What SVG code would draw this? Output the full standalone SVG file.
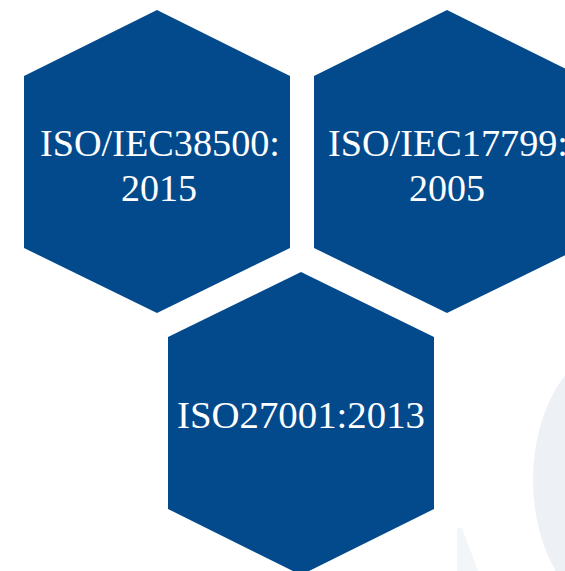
<svg xmlns="http://www.w3.org/2000/svg" width="565" height="571" viewBox="0 0 565 571">
<style>
.hex{fill:#034a8d}
.lbl{fill:#ffffff;font-family:"Liberation Serif","DejaVu Serif",serif;font-size:38px;text-anchor:middle}
.bg{fill:#edf1f6}
</style>
<rect width="565" height="571" fill="#ffffff"/>
<g id="background">
<ellipse class="bg" cx="620" cy="480" rx="87" ry="135"/>
<polygon points="457,528 462,528 478,571 457,571" fill="#f3f6f9"/>
</g>
<g id="node-iec38500">
<polygon class="hex" points="157,10 290,76 290,248 157,313 24,248 24,76"/>
<text class="lbl" x="160" y="156" textLength="240" lengthAdjust="spacingAndGlyphs">ISO/IEC38500:</text>
<text class="lbl" x="159" y="201">2015</text>
</g>
<g id="node-iec17799">
<polygon class="hex" points="447,10 580,76 580,248 447,313 314,248 314,76"/>
<text class="lbl" x="448" y="156" textLength="240" lengthAdjust="spacingAndGlyphs">ISO/IEC17799:</text>
<text class="lbl" x="447" y="201">2005</text>
</g>
<g id="node-iso27001">
<polygon class="hex" points="301,272 434,337 434,509 301,575 168,509 168,337"/>
<text class="lbl" x="301" y="428" textLength="248" lengthAdjust="spacingAndGlyphs">ISO27001:2013</text>
</g>
<g id="connectors"></g>
</svg>
